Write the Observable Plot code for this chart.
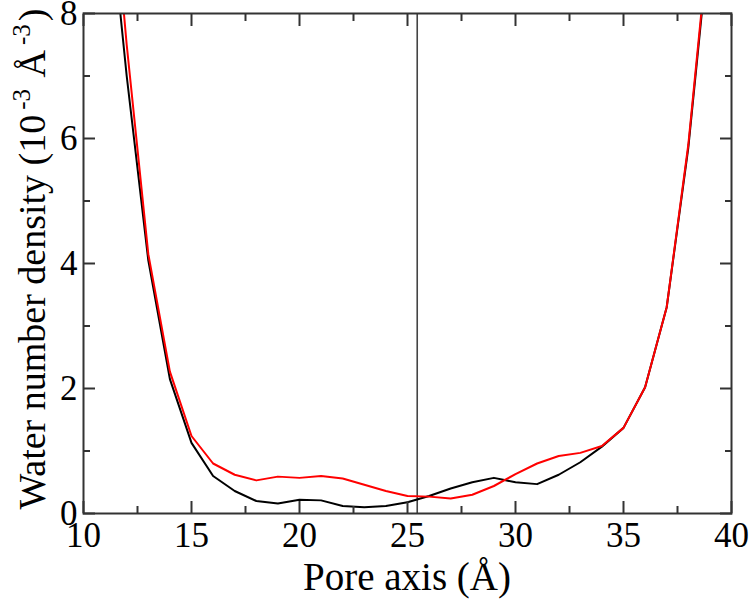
<!DOCTYPE html>
<html>
<head>
<meta charset="utf-8">
<script src="https://cdn.jsdelivr.net/npm/d3@7"></script>
<script src="https://cdn.jsdelivr.net/npm/@observablehq/plot@0.6"></script>
<style>
  html, body { margin: 0; padding: 0; background: #fff; }
  #chart svg { display: block; }
</style>
</head>
<body>
<div id="chart"></div>
<script>
// ---- data ----
const poreX = [11, 12, 13, 14, 15, 16, 17, 18, 19, 20, 21, 22, 23, 24, 25, 26, 27, 28, 29, 30, 31, 32, 33, 34, 35, 36, 37, 38, 39];
const blackY = [10.4, 7.0, 4.05, 2.15, 1.13, 0.6, 0.36, 0.2, 0.16, 0.22, 0.21, 0.12, 0.1, 0.12, 0.18, 0.28, 0.4, 0.5, 0.57, 0.5, 0.47, 0.62, 0.82, 1.07, 1.37, 2.02, 3.3, 5.85, 9.3];
const redY   = [11.4, 7.5, 4.15, 2.27, 1.24, 0.8, 0.62, 0.53, 0.59, 0.57, 0.6, 0.56, 0.46, 0.36, 0.28, 0.27, 0.24, 0.3, 0.44, 0.63, 0.8, 0.92, 0.97, 1.08, 1.37, 2.02, 3.3, 5.9, 9.4];
const markerX = [25.45];
const xMajor = [10, 15, 20, 25, 30, 35, 40];
const xMinor = [12.5, 17.5, 22.5, 27.5, 32.5, 37.5];
const yMajor = [0, 2, 4, 6, 8];
const yMinor = [1, 3, 5, 7];
const xTitle = "Pore axis (Å)";
const yTitleParts = ["Water number density (10", "-3", " Å", "-3", ")"];

const blackData = poreX.map((x, i) => ({x, y: blackY[i]}));
const redData = poreX.map((x, i) => ({x, y: redY[i]}));

const axisColor = "#333";
const font = "'Liberation Serif', 'Times New Roman', serif";
const fmt = d => String(d);

const chart = Plot.plot({
  width: 750,
  height: 599,
  marginLeft: 83,
  marginRight: 19,
  marginTop: 13,
  marginBottom: 86,
  style: {fontFamily: font, fontSize: "35px", color: "#000", background: "#fff"},
  x: {domain: [10, 40], label: null},
  y: {domain: [0, 8], label: null},
  marks: [
    Plot.ruleX(markerX, {stroke: "#444", strokeWidth: 1.6}),
    Plot.line(blackData, {x: "x", y: "y", stroke: "#000", strokeWidth: 2, clip: true}),
    Plot.line(redData, {x: "x", y: "y", stroke: "#ff0000", strokeWidth: 2, clip: true}),
    // tick labels
    Plot.axisX(xMajor, {anchor: "bottom", tickSize: 0, tickPadding: 9, fontSize: 35, fill: "#000", tickFormat: fmt}),
    Plot.axisY(yMajor, {anchor: "left", tickSize: 0, tickPadding: 6, fontSize: 35, fill: "#000", tickFormat: fmt}),
    // inward ticks on all four sides
    Plot.axisX(xMajor, {anchor: "bottom", tickSize: -12, tickFormat: () => "", stroke: axisColor, strokeWidth: 2}),
    Plot.axisX(xMinor, {anchor: "bottom", tickSize: -7, tickFormat: () => "", stroke: axisColor, strokeWidth: 2}),
    Plot.axisX(xMajor, {anchor: "top", tickSize: -12, tickFormat: () => "", stroke: axisColor, strokeWidth: 2}),
    Plot.axisX(xMinor, {anchor: "top", tickSize: -7, tickFormat: () => "", stroke: axisColor, strokeWidth: 2}),
    Plot.axisY(yMajor, {anchor: "left", tickSize: -12, tickFormat: () => "", stroke: axisColor, strokeWidth: 2}),
    Plot.axisY(yMinor, {anchor: "left", tickSize: -7, tickFormat: () => "", stroke: axisColor, strokeWidth: 2}),
    Plot.axisY(yMajor, {anchor: "right", tickSize: -12, tickFormat: () => "", stroke: axisColor, strokeWidth: 2}),
    Plot.axisY(yMinor, {anchor: "right", tickSize: -7, tickFormat: () => "", stroke: axisColor, strokeWidth: 2}),
    Plot.frame({stroke: axisColor, strokeWidth: 2})
  ]
});

document.getElementById("chart").appendChild(chart);

const svg = d3.select(chart);
// x axis title
svg.append("text")
  .attr("x", 407)
  .attr("y", 590)
  .attr("text-anchor", "middle")
  .attr("font-family", font)
  .attr("font-size", 39)
  .attr("fill", "#000")
  .text(xTitle);

// y axis title with superscripts
const yt = svg.append("text")
  .attr("transform", "translate(45,259) rotate(-90)")
  .attr("text-anchor", "middle")
  .attr("font-family", font)
  .attr("font-size", 38)
  .attr("fill", "#000");
yTitleParts.forEach((p, i) => {
  const ts = yt.append("tspan").text(p);
  if (i % 2 === 1) {
    ts.attr("font-size", 25).attr("dy", -15).attr("dx", 5);
  } else if (i > 0) {
    ts.attr("dy", 15).attr("dx", i === 2 ? 2 : 3);
  }
});
</script>
</body>
</html>
